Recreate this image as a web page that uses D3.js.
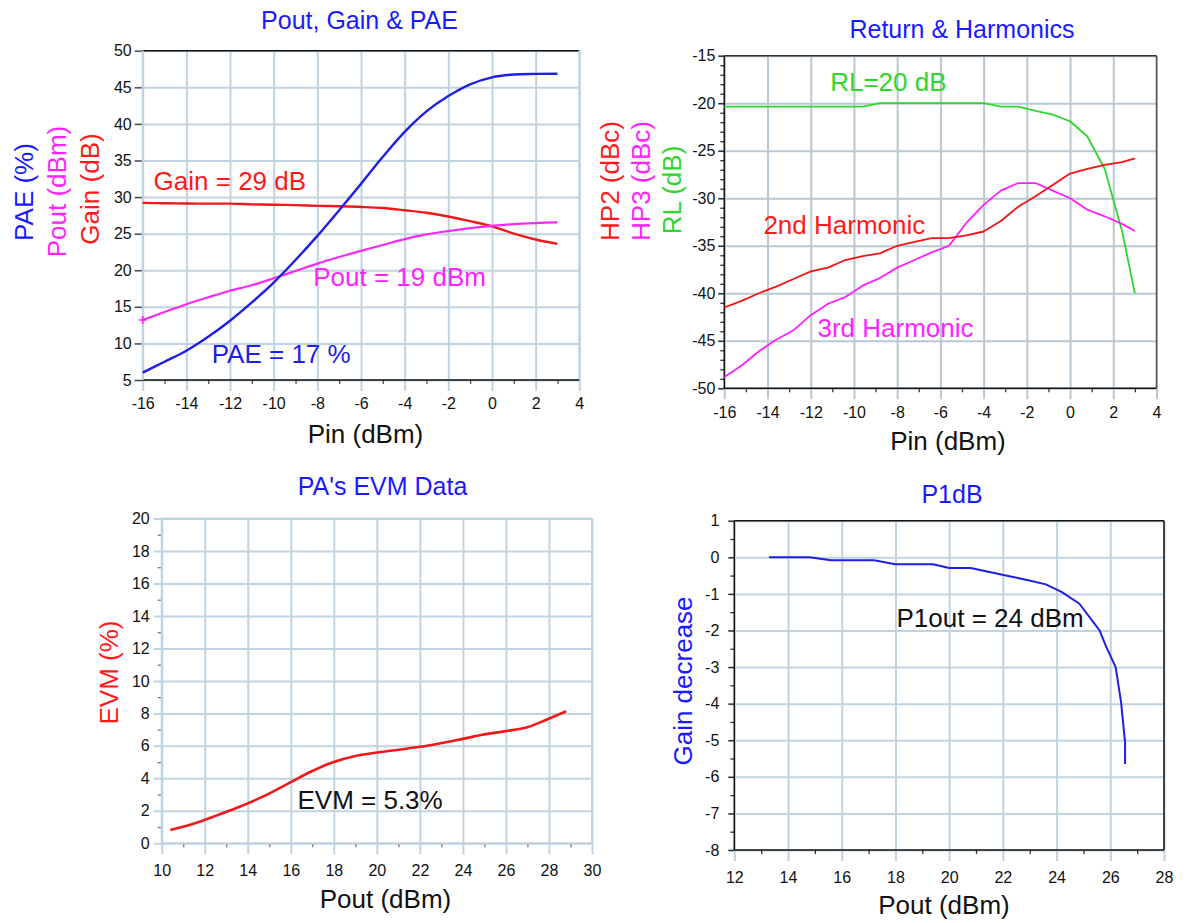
<!DOCTYPE html>
<html>
<head>
<meta charset="utf-8">
<script src="https://cdn.jsdelivr.net/npm/d3@7"></script>
<style>
  body { margin: 0; background: #fff; }
  svg { display: block; }
  text { font-family: "Liberation Sans", Arial, sans-serif; }
</style>
</head>
<body>
<svg id="chart" width="1186" height="923"></svg>
<script>

// ---- top left: Pout, Gain & PAE against Pin ----
var pinA = [-16, -15, -14, -13, -12, -11, -10, -9, -8, -7, -6, -5, -4, -3, -2, -1, 0, 1, 2, 3];
var paeA = [6.0, 7.5, 9.0, 10.9, 13.1, 15.6, 18.3, 21.4, 24.7, 28.2, 31.8, 35.5, 38.9, 41.7, 43.8, 45.4, 46.35, 46.75, 46.83, 46.85];
var poutA = [13.2, 14.3, 15.35, 16.3, 17.2, 17.95, 18.9, 19.9, 20.9, 21.8, 22.65, 23.45, 24.25, 24.9, 25.35, 25.75, 26.05, 26.3, 26.45, 26.55];
var gainA = [29.2, 29.15, 29.12, 29.1, 29.1, 29.0, 28.95, 28.9, 28.8, 28.75, 28.65, 28.5, 28.2, 27.85, 27.35, 26.7, 26.0, 25.0, 24.2, 23.6];

// ---- top right: return loss and harmonics ----
var pinB = [-16, -15.2, -14.4, -13.6, -12.8, -12, -11.2, -10.4, -9.6, -8.8, -8, -7.2, -6.4, -5.6, -4.8, -4, -3.2, -2.4, -1.6, -0.8, 0, 0.8, 1.6, 2.4, 3];
var hp2 = [-41.5, -40.8, -40.0, -39.3, -38.5, -37.7, -37.3, -36.5, -36.1, -35.8, -35.0, -34.6, -34.2, -34.2, -33.9, -33.5, -32.4, -30.9, -29.8, -28.6, -27.4, -26.9, -26.5, -26.2, -25.8];
var hp3 = [-48.8, -47.6, -46.1, -44.9, -43.9, -42.3, -41.1, -40.4, -39.2, -38.4, -37.3, -36.5, -35.7, -35.0, -32.6, -30.7, -29.2, -28.4, -28.4, -29.2, -30.0, -31.2, -31.9, -32.7, -33.45];
var rl = [-20.35, -20.35, -20.35, -20.35, -20.35, -20.35, -20.35, -20.35, -20.35, -20.0, -20.0, -20.0, -20.0, -20.0, -20.0, -20.0, -20.35, -20.35, -20.8, -21.2, -21.9, -23.5, -26.9, -33.4, -40.0];

// ---- bottom left: EVM against Pout ----
var evmPout = [10.4, 11.4, 12.4, 13.5, 14.7, 16.0, 16.9, 17.9, 19.0, 20.1, 21.1, 22.0, 22.9, 24.0, 24.9, 25.9, 27.0, 27.9, 28.8];
var evm = [0.82, 1.17, 1.64, 2.19, 2.87, 3.77, 4.39, 4.96, 5.37, 5.61, 5.78, 5.94, 6.15, 6.43, 6.68, 6.89, 7.15, 7.62, 8.13];

// ---- bottom right: gain compression ----
var p1Pout = [13.3, 14.8, 15.6, 17.2, 18.0, 19.4, 20.0, 20.8, 21.5, 22.2, 22.9, 23.6, 24.2, 24.85, 25.6, 25.85, 26.2, 26.4, 26.55, 26.55];
var p1Gain = [0, 0, -0.08, -0.08, -0.19, -0.19, -0.29, -0.29, -0.4, -0.51, -0.62, -0.74, -0.95, -1.27, -2.0, -2.45, -3.0, -3.95, -5.05, -5.65];

// tick values
var pinTicks = [-16, -14, -12, -10, -8, -6, -4, -2, 0, 2, 4];
var pinMinor = [-15, -13, -11, -9, -7, -5, -3, -1, 1, 3];
var ticksA = [5, 10, 15, 20, 25, 30, 35, 40, 45, 50];
var ticksB = [-50, -45, -40, -35, -30, -25, -20, -15];
var minorB = [-49, -48, -47, -46, -44, -43, -42, -41, -39, -38, -37, -36, -34, -33, -32, -31,
              -29, -28, -27, -26, -24, -23, -22, -21, -19, -18, -17, -16];
var evmXTicks = [10, 12, 14, 16, 18, 20, 22, 24, 26, 28, 30];
var evmXMinor = [11, 13, 15, 17, 19, 21, 23, 25, 27, 29];
var evmYTicks = [0, 2, 4, 6, 8, 10, 12, 14, 16, 18, 20];
var evmYMinor = [1, 3, 5, 7, 9, 11, 13, 15, 17, 19];
var p1XTicks = [12, 14, 16, 18, 20, 22, 24, 26, 28];
var p1XMinor = [13, 15, 17, 19, 21, 23, 25, 27];
var p1YTicks = [-8, -7, -6, -5, -4, -3, -2, -1, 0, 1];
var p1YMinor = [-7.5, -6.5, -5.5, -4.5, -3.5, -2.5, -1.5, -0.5, 0.5];

var BLUE = "#1a1aff", RED = "#ff1a1a", MAG = "#ff22ff", GREEN = "#2ed62e";
var GRID = "#c0d3e0";

var svg = d3.select("#chart");

function drawPanel(p) {
  var x = d3.scaleLinear().domain(p.xDomain).range([p.left, p.right]);
  var y = d3.scaleLinear().domain(p.yDomain).range([p.bottom, p.top]);
  var w = p.right - p.left, h = p.bottom - p.top;
  var g = svg.append("g");

  // vertical grid lines, they run past the bottom edge as the major ticks
  var gx = g.append("g")
      .attr("transform", "translate(0," + p.top + ")")
      .call(d3.axisBottom(x).tickValues(p.xTicks).tickSize(h + 11).tickPadding(p.xPad).tickFormat(String));
  gx.select(".domain").remove();
  gx.selectAll("line").attr("stroke", p.grid).attr("stroke-width", 2);
  gx.attr("font-size", 16).attr("font-family", null);
  gx.selectAll("text").attr("fill", "#111");

  // horizontal grid lines + y labels
  var gy = g.append("g")
      .attr("transform", "translate(" + p.right + ",0)")
      .call(d3.axisLeft(y).tickValues(p.yTicks).tickSize(w + p.yExt).tickPadding(p.yPad).tickFormat(String));
  gy.select(".domain").remove();
  gy.selectAll("line").attr("stroke", p.grid).attr("stroke-width", 2);
  gy.attr("font-size", 16).attr("font-family", null);
  gy.selectAll("text").attr("fill", "#111");

  // dark major ticks on the y axis
  if (p.yTickColor) {
    var yt = g.append("g")
        .attr("transform", "translate(" + p.left + ",0)")
        .call(d3.axisLeft(y).tickValues(p.yTicks).tickSize(p.yExt).tickFormat(""));
    yt.select(".domain").remove();
    yt.selectAll("line").attr("stroke", p.yTickColor).attr("stroke-width", 1.3);
  }

  // minor ticks
  var mx = g.append("g")
      .attr("transform", "translate(0," + p.bottom + ")")
      .call(d3.axisBottom(x).tickValues(p.xMinor).tickSize(4).tickFormat(""));
  mx.select(".domain").remove();
  mx.selectAll("line").attr("stroke", p.minorColor).attr("stroke-width", 1.3);
  if (p.yMinor.length) {
    var my = g.append("g")
        .attr("transform", "translate(" + p.left + ",0)")
        .call(d3.axisLeft(y).tickValues(p.yMinor).tickSize(4).tickFormat(""));
    my.select(".domain").remove();
    my.selectAll("line").attr("stroke", p.minorColor).attr("stroke-width", 1.3);
  }

  // frame
  var f = p.frame;
  g.append("line").attr("x1", p.left).attr("x2", p.right).attr("y1", p.top).attr("y2", p.top)
    .attr("stroke", f[0]).attr("stroke-width", f[0] === p.grid ? 2 : 1.5);
  g.append("line").attr("x1", p.right).attr("x2", p.right).attr("y1", p.top).attr("y2", p.bottom)
    .attr("stroke", f[1]).attr("stroke-width", f[1] === p.grid ? 2 : 1.5);
  g.append("line").attr("x1", p.left).attr("x2", p.right).attr("y1", p.bottom).attr("y2", p.bottom)
    .attr("stroke", f[2]).attr("stroke-width", f[2] === p.grid ? 2 : 1.5);
  g.append("line").attr("x1", p.left).attr("x2", p.left).attr("y1", p.top).attr("y2", p.bottom)
    .attr("stroke", f[3]).attr("stroke-width", f[3] === p.grid ? 2 : 1.5);

  // data lines
  p.series.forEach(function (s) {
    var pts = s.xs.map(function (d, i) { return [d, s.ys[i]]; });
    var line = d3.line()
        .x(function (d) { return x(d[0]); })
        .y(function (d) { return y(d[1]); })
        .curve(p.smooth ? d3.curveCatmullRom.alpha(0.5) : d3.curveLinear);
    g.append("path")
      .datum(pts)
      .attr("d", line)
      .attr("fill", "none")
      .attr("stroke", s.color)
      .attr("stroke-width", s.width)
      .attr("stroke-linejoin", "round");
  });

  // annotations placed in data units
  p.notes.forEach(function (n) {
    g.append("text")
      .attr("x", x(n.x)).attr("y", y(n.y))
      .attr("fill", n.color)
      .style("font-size", "26px")
      .text(n.text);
  });

  // title and axis titles
  g.append("text")
    .attr("x", p.title[1]).attr("y", p.title[2])
    .attr("text-anchor", "middle")
    .attr("fill", BLUE)
    .style("font-size", "25px")
    .text(p.title[0]);
  g.append("text")
    .attr("x", p.xTitle[1]).attr("y", p.xTitle[2])
    .attr("text-anchor", "middle")
    .attr("fill", "#111")
    .style("font-size", "26px")
    .text(p.xTitle[0]);
  p.yTitles.forEach(function (t) {
    g.append("text")
      .attr("transform", "translate(" + t.x + "," + t.y + ") rotate(-90)")
      .attr("text-anchor", "middle")
      .attr("fill", t.color)
      .style("font-size", "26px")
      .text(t.text);
  });

  return { x: x, y: y, g: g };
}

var pa = drawPanel({
  left: 142.7, right: 579.3, top: 50.7, bottom: 380,
  xDomain: [-16, 4], yDomain: [5, 50],
  xTicks: pinTicks, xMinor: pinMinor, yTicks: ticksA, yMinor: [],
  xPad: 7, yExt: 8, yPad: 3,
  grid: GRID, minorColor: "#555", yTickColor: "#444",
  frame: ["#111", GRID, "#111", GRID],
  smooth: true,
  series: [
    { xs: pinA, ys: gainA, color: "#f01818", width: 2.4 },
    { xs: pinA, ys: poutA, color: "#f62af6", width: 2.2 },
    { xs: pinA, ys: paeA, color: "#1e1ee6", width: 2.4 }
  ],
  notes: [
    { text: "Gain = 29 dB", x: -15.5, y: 30.96, color: RED },
    { text: "Pout = 19 dBm", x: -8.19, y: 17.85, color: MAG },
    { text: "PAE = 17 %", x: -12.84, y: 7.36, color: "#1e1ee6" }
  ],
  title: ["Pout, Gain & PAE", 359.5, 29],
  xTitle: ["Pin (dBm)", 365.5, 443],
  yTitles: [
    { text: "PAE (%)", x: 33, y: 192, color: BLUE },
    { text: "Pout (dBm)", x: 66, y: 191.5, color: MAG },
    { text: "Gain (dB)", x: 99, y: 189, color: RED }
  ]
});

// little start marker on the Pout trace
pa.g.append("path")
  .attr("transform", "translate(" + pa.x(pinA[0]) + "," + pa.y(poutA[0]) + ")")
  .attr("d", "M-4,0H4M0,-4V4")
  .attr("stroke", MAG).attr("stroke-width", 1.5);

var pb = drawPanel({
  left: 724.3, right: 1156.5, top: 55.7, bottom: 388.3,
  xDomain: [-16, 4], yDomain: [-50, -15],
  xTicks: pinTicks, xMinor: pinMinor, yTicks: ticksB, yMinor: minorB,
  xPad: 7.4, yExt: 6, yPad: 3,
  grid: "#b9c8d2", minorColor: "#333", yTickColor: "#222",
  frame: ["#333", "#555", "#111", "#111"],
  smooth: false,
  series: [
    { xs: pinB, ys: rl, color: GREEN, width: 1.8 },
    { xs: pinB, ys: hp3, color: "#ff1eff", width: 1.8 },
    { xs: pinB, ys: hp2, color: "#f21414", width: 1.8 }
  ],
  notes: [
    { text: "RL=20 dB", x: -11.1, y: -18.67, color: GREEN },
    { text: "2nd Harmonic", x: -14.19, y: -33.79, color: RED },
    { text: "3rd Harmonic", x: -11.69, y: -44.57, color: MAG }
  ],
  title: ["Return & Harmonics", 962, 38],
  xTitle: ["Pin (dBm)", 948, 450],
  yTitles: [
    { text: "HP2 (dBc)", x: 619, y: 181, color: RED },
    { text: "HP3 (dBc)", x: 650, y: 181, color: MAG },
    { text: "RL (dB)", x: 681, y: 190, color: GREEN }
  ]
});

drawPanel({
  left: 161.7, right: 592, top: 518.5, bottom: 843.3,
  xDomain: [10, 30], yDomain: [0, 20],
  xTicks: evmXTicks, xMinor: evmXMinor, yTicks: evmYTicks, yMinor: evmYMinor,
  xPad: 10, yExt: 8, yPad: 4,
  grid: GRID, minorColor: "#777", yTickColor: null,
  frame: [GRID, GRID, GRID, GRID],
  smooth: true,
  series: [
    { xs: evmPout, ys: evm, color: "#f01818", width: 2.6 }
  ],
  notes: [
    { text: "EVM = 5.3%", x: 16.31, y: 2.12, color: "#111" }
  ],
  title: ["PA's EVM Data", 382.5, 495],
  xTitle: ["Pout (dBm)", 385.5, 908],
  yTitles: [
    { text: "EVM (%)", x: 118, y: 672.5, color: RED }
  ]
});

drawPanel({
  left: 734.3, right: 1164, top: 520.7, bottom: 850,
  xDomain: [12, 28], yDomain: [-8, 1],
  xTicks: p1XTicks, xMinor: p1XMinor, yTicks: p1YTicks, yMinor: p1YMinor,
  xPad: 10.7, yExt: 6, yPad: 9,
  grid: GRID, minorColor: "#333", yTickColor: "#222",
  frame: ["#111", "#111", "#111", "#111"],
  smooth: false,
  series: [
    { xs: p1Pout, ys: p1Gain, color: "#1e1ee6", width: 2 }
  ],
  notes: [
    { text: "P1out = 24 dBm", x: 18.04, y: -1.9, color: "#111" }
  ],
  title: ["P1dB", 952, 503],
  xTitle: ["Pout (dBm)", 944, 914],
  yTitles: [
    { text: "Gain decrease", x: 692, y: 681, color: BLUE }
  ]
});

</script>
</body>
</html>
